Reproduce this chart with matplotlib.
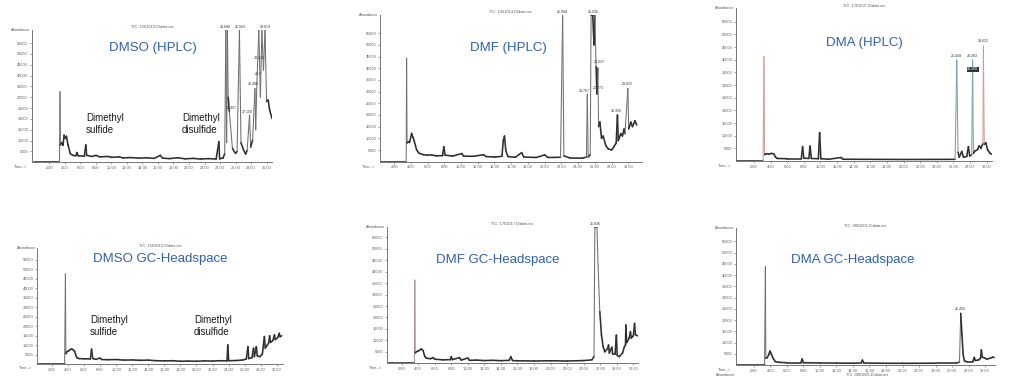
import matplotlib.pyplot as plt
from matplotlib.collections import LineCollection

W, H = 1017, 388

# ---- data: retention time (min) / abundance ----
dmso_hplc_t = [0.0, 3.3, 3.37, 3.42, 3.6, 3.75, 3.9, 4.05, 4.2, 4.4, 4.7, 5.0, 5.4, 5.55, 5.7,
               6.5, 6.7, 6.8, 7.5, 8.0, 8.5, 9.5, 10.0, 11.0, 11.5, 12.5, 13.5, 14.5, 15.5,
               16.3, 16.6, 17.5, 18.5, 19.5, 20.5, 21.5, 22.5, 23.5, 23.85, 23.95, 24.4, 24.6,
               24.75, 24.85, 24.95, 25.05, 25.2, 25.6, 26.0, 26.2, 26.5, 26.7, 27.0, 27.3,
               27.5, 27.8, 27.95, 28.2, 28.5, 28.6, 28.75, 29.0, 29.2, 29.4, 29.6, 29.8, 30.0,
               30.2, 30.4, 30.7]
dmso_hplc_a = [0, 0, 32500, 8000, 9000, 7800, 12500, 11000, 12000, 8000, 4000, 3200, 3000, 4500, 3000,
               2800, 8000, 3200, 2700, 3200, 2500, 2700, 2300, 2500, 2000, 2200, 1900, 2100, 1800,
               3200, 1900, 1700, 2100, 1600, 1800, 1500, 1700, 1500, 9500, 1600, 2000, 4000,
               61000, 9000, 61000, 30000, 23300, 6400, 4100, 5000, 61000, 9000, 6000, 3800,
               5500, 21800, 7000, 10300, 34000, 15000, 36300, 61000, 30000, 61000, 42500, 61000, 28000,
               28700, 24000, 20200]

dmf_hplc_t = [0.3, 3.45, 3.5, 3.55, 3.7, 3.85, 4.1, 4.25, 4.4, 4.7, 5.0, 5.5, 6.0, 6.5, 7.0, 7.8,
              7.95, 8.1, 9.0, 10.1, 10.3, 11.5, 12.7, 13.0, 14.0, 14.9, 15.05, 15.2, 15.35, 15.6,
              16.5, 17.25, 17.5, 19.0, 20.0, 20.4, 21.9, 22.15, 22.3, 23.0, 24.5, 25.0, 25.1,
              25.2, 25.45, 25.55, 25.75, 25.9, 26.0, 26.15, 26.25, 26.35, 26.45, 26.6, 26.8,
              27.0, 27.3, 27.6, 28.0, 28.3, 28.55, 28.7, 28.8, 29.1, 29.3, 29.5, 29.6, 29.95,
              30.05, 30.3, 30.5, 30.8, 31.0]
dmf_hplc_a = [0, 0, 44300, 8000, 8600, 8200, 12100, 10500, 9000, 5000, 3600, 3000, 2800, 2900, 2500, 2600,
              6400, 2800, 2400, 3500, 2400, 2300, 3000, 2200, 2000, 2300, 9000, 11000, 5000, 2200,
              1900, 3900, 2000, 1800, 2900, 1800, 1900, 62800, 2500, 1600, 1500, 2000, 28900,
              2000, 3000, 62800, 62800, 50000, 62800, 40700, 29000, 40000, 15000, 17000, 10000,
              11000, 7000, 5500, 5000, 6500, 8000, 20000, 9000, 12000, 11000, 14000, 12000, 31400,
              14000, 17000, 15000, 17500, 15700]

dma_hplc_t = [-0.1, 3.1, 3.2, 3.27, 3.5, 3.8, 4.1, 4.4, 4.6, 4.8, 6.0, 7.7, 7.85, 8.0, 8.6, 8.75,
              8.9, 9.75, 9.9, 10.05, 11.0, 12.5, 12.7, 20.0, 26.2, 26.4, 26.55, 26.7, 27.0, 27.2,
              27.6, 27.8, 27.95, 28.2, 28.3, 28.4, 28.6, 28.9, 29.1, 29.3, 29.55, 29.6, 29.7,
              29.9, 30.1, 30.4, 30.6]
dma_hplc_a = [0, 0, 41200, 2500, 2900, 2700, 3000, 2800, 1500, 1000, 900, 900, 5700, 1100, 1000, 5900,
              1000, 900, 11200, 900, 700, 1400, 700, 600, 650, 39900, 3500, 1500, 3800, 1500,
              1800, 5700, 2000, 2500, 39900, 3000, 4000, 4500, 6000, 5000, 7000, 45400, 6500,
              7200, 4500, 3000, 2700]

dmso_hs_t = [0.2, 3.6, 3.7, 3.75, 3.9, 4.1, 4.3, 4.5, 4.7, 4.85, 5.1, 5.4, 6.0, 6.8, 6.95, 7.1,
             7.5, 8.0, 8.2, 9.0, 10.0, 11.0, 12.0, 13.0, 14.0, 15.0, 16.0, 17.0, 18.0, 19.0,
             20.0, 21.0, 22.0, 23.0, 23.8, 23.9, 24.0, 25.0, 25.8, 26.2, 26.4, 26.5, 26.9, 27.1,
             27.2, 27.45, 27.55, 27.9, 28.2, 28.45, 28.55, 28.8, 29.0, 29.1, 29.2, 29.5, 29.7,
             29.8, 30.1, 30.3, 30.4, 30.6]
dmso_hs_a = [0, 0, 47500, 5500, 6700, 7000, 7800, 8000, 7500, 6700, 3500, 3000, 2900, 2800, 8000, 3000,
             2600, 3300, 2500, 2400, 2500, 2200, 2300, 2100, 2200, 1900, 1800, 1900, 1600, 1700,
             1600, 1800, 1700, 1900, 1800, 10200, 1900, 2000, 2300, 2800, 9300, 3000, 3500, 8500,
             4000, 9300, 4500, 4000, 5500, 14600, 8500, 10000, 11500, 15000, 11500, 12500, 15500,
             13000, 14000, 16300, 14500, 15000]

dmf_hs_t = [0.2, 3.55, 3.6, 3.65, 3.8, 4.0, 4.2, 4.4, 4.6, 4.8, 5.0, 5.5, 5.8, 6.0, 7.0, 7.9, 8.0,
            8.15, 9.0, 9.2, 10.0, 10.2, 11.0, 12.0, 13.0, 14.0, 15.0, 15.2, 15.4, 16.0, 18.0,
            20.0, 22.0, 24.0, 25.0, 25.25, 25.35, 25.6, 25.75, 25.95, 26.15, 26.35, 26.55, 26.9,
            27.0, 27.1, 27.4, 27.5, 27.8, 27.95, 28.05, 28.3, 28.7, 28.9, 29.05, 29.1, 29.2,
            29.5, 29.65, 29.75, 30.0, 30.15, 30.25, 30.5]
dmf_hs_a = [0, 0, 36300, 4500, 5100, 5300, 5800, 6300, 5500, 3000, 2200, 2000, 2500, 1800, 1500, 1600, 2900,
            1600, 2500, 1400, 2300, 1300, 1400, 1200, 1300, 1150, 1300, 2900, 1200, 1100, 1000,
            1100, 1000, 1200, 1500, 3000, 59600, 59600, 41400, 22500, 12300, 7300, 5000, 6500,
            8000, 4500, 7000, 4000, 4000, 12300, 3500, 2900, 4500, 7000, 8000, 16700, 9000,
            11000, 13800, 11000, 12000, 17400, 12500, 12000]

dma_hs_t = [-0.1, 3.3, 3.4, 3.45, 3.6, 3.8, 3.95, 4.1, 4.3, 4.6, 5.0, 6.0, 7.7, 7.85, 8.0, 10.0,
            12.0, 14.0, 15.0, 15.15, 15.3, 17.0, 20.0, 24.0, 26.5, 26.9, 27.05, 27.2, 27.35,
            27.5, 27.8, 28.5, 28.7, 28.8, 29.2, 29.45, 29.55, 29.65, 29.9, 30.2, 30.6, 30.9, 31.1]
dma_hs_a = [0, 0, 43800, 3000, 3200, 4500, 6200, 5000, 3200, 1500, 1200, 1000, 1000, 2700, 1000, 900,
            850, 800, 900, 2200, 900, 800, 750, 800, 800, 1300, 23000, 13300, 4500,
            1800, 1500, 1500, 3400, 2000, 2200, 3000, 6700, 3500, 3200, 2600, 3000, 3500, 3300]

titles = ["DMSO (HPLC)", "DMF (HPLC)", "DMA (HPLC)",
          "DMSO GC-Headspace", "DMF GC-Headspace", "DMA GC-Headspace"]
tic_names = ["TIC: 1201610.D\\data.ms", "TIC: 1401014.D\\data.ms", "TIC: 1701007.D\\data.ms",
             "TIC: 1501016.D\\data.ms", "TIC: 1701017.D\\data.ms", "TIC: 0801006.D\\data.ms"]
ytop = [61000, 62800, 60300, 61000, 59600, 60800]
xspan = [(-0.28, 30.7), (0.32, 31.6), (-0.16, 30.6), (0.2, 30.8), (0.2, 30.6), (-0.16, 31.2)]

# peak labels (time, abundance, text)
peak_labels = [
    [(24.7, 61500, "24.848"), (26.6, 61500, "26.563"), (25.5, 24000, "25.457"),
     (27.5, 22500, "27.150"), (28.3, 35000, "28.485"), (28.9, 40000, "28.7"),
     (29.1, 47000, "29.126"), (29.9, 61500, "29.874")],
    [(22.15, 63200, "21.994"), (24.7, 29500, "24.767"), (25.8, 63200, "25.556"),
     (26.5, 42000, "26.037"), (26.4, 30500, "25.773"), (28.6, 21000, "28.359"),
     (29.9, 32500, "29.822")],
    [(26.4, 40800, "26.458"), (28.3, 40800, "28.203"), (29.6, 46500, "29.621")],
    [],
    [(25.4, 60000, "25.836")],
    [(27.05, 24000, "26.455")],
]
boxed_labels = [[], [], [(28.3, 36300, "28.209")], [], [], []]

# tint of the thin, tall spike lines (time windows in minutes)
spike_tints = [[], [], [(0, 5, "#d39a96"), (26, 28.6, "#7e9bb0"), (29, 31, "#d39a96")],
               [], [(0, 5, "#a8928c")], []]

traces = [(dmso_hplc_t, dmso_hplc_a), (dmf_hplc_t, dmf_hplc_a), (dma_hplc_t, dma_hplc_a),
          (dmso_hs_t, dmso_hs_a), (dmf_hs_t, dmf_hs_a), (dma_hs_t, dma_hs_a)]

# axes frames in pixels: left, top, right, bottom
frames = [(31.7, 30, 272, 162.3), (380, 15, 641.7, 161.7), (736, 8.3, 991.7, 161),
          (37.3, 248.3, 283.3, 364.3), (386.7, 226.7, 638.3, 363.3), (736, 228.3, 995, 365)]
title_pos = [(153, 48), (508, 48), (864, 43), (160, 259), (498, 260), (853, 260)]

BLUE = "#2f5faf"
GREY = "#5a5a5a"
DARK = "#2e2e2e"

fig = plt.figure(figsize=(W / 100, H / 100), dpi=100)
plt.rcParams['font.family'] = ['Liberation Sans', 'DejaVu Sans']

for i in range(6):
    l, t, r, b = frames[i]
    ax = fig.add_axes([l / W, 1 - b / H, (r - l) / W, (b - t) / H])
    ts, ab = traces[i]
    segs, cols, lws = [], [], []
    for k in range(len(ts) - 1):
        segs.append([(ts[k], ab[k]), (ts[k + 1], ab[k + 1])])
        steep = abs(ab[k + 1] - ab[k]) > 14000
        c = DARK
        if steep:
            c = "#6e6e6e"
            for (t0, t1, tint) in spike_tints[i]:
                if t0 <= ts[k] <= t1:
                    c = tint
        cols.append(c)
        lws.append(0.75 if steep else 1.15)
    ax.add_collection(LineCollection(segs, colors=cols, linewidths=lws, capstyle="round"))
    ax.set_xlim(*xspan[i])
    ax.set_ylim(0, ytop[i])
    ax.set_xticks(range(2, 31, 2))
    ax.set_xticklabels(["%.2f" % v for v in range(2, 31, 2)])
    ax.set_yticks(range(5000, 60000, 5000))
    ax.tick_params(labelsize=2.8, colors=GREY, length=1.2, width=0.4, pad=1.5)
    for s in ["top", "right"]:
        ax.spines[s].set_visible(False)
    for s in ["left", "bottom"]:
        ax.spines[s].set_color("#777777")
        ax.spines[s].set_linewidth(0.7)
    ax.text(-0.005, 1.0, "Abundance", transform=ax.transAxes, ha="right", va="center",
            fontsize=2.8, color=GREY)
    ax.text(-0.02, -0.035, "Time-->", transform=ax.transAxes, ha="right", va="center",
            fontsize=2.8, color=GREY)
    ax.text(0.5, 1.005, tic_names[i], transform=ax.transAxes, ha="center", va="bottom",
            fontsize=2.8, color=GREY)
    for (pt, pa, s) in peak_labels[i]:
        ax.text(pt, pa, s, ha="center", va="bottom", fontsize=2.6, color="#333333", clip_on=False)
    for (pt, pa, s) in boxed_labels[i]:
        ax.text(pt, pa, s, ha="center", va="center", fontsize=2.6, color="white", clip_on=False,
                bbox=dict(boxstyle="square,pad=0.15", fc="#333333", ec="none"))
    fig.text(title_pos[i][0] / W, 1 - title_pos[i][1] / H, titles[i], ha="center", va="center",
             fontsize=9.5, color=BLUE)

# compound annotations
for (x, y) in [(86, 124), (90, 326)]:
    fig.text(x / W, 1 - y / H, "Dimethyl\nsulfide", ha="left", va="center", fontsize=7,
             color="#1a1a1a", linespacing=1.15)
for (x, y) in [(182, 124), (194, 326)]:
    fig.text(x / W, 1 - y / H, "Dimethyl\ndisulfide", ha="left", va="center", fontsize=7,
             color="#1a1a1a", linespacing=1.15)

# header of the next scan, cut off under the last panel
fig.text(735 / W, 1 - 375 / H, "Abundance", ha="right", va="center", fontsize=2.8, color=GREY)
fig.text(867 / W, 1 - 375 / H, "TIC: 0801005.D\\data.ms", ha="center", va="center",
         fontsize=2.8, color=GREY)

fig.savefig("out.png", dpi=100)
